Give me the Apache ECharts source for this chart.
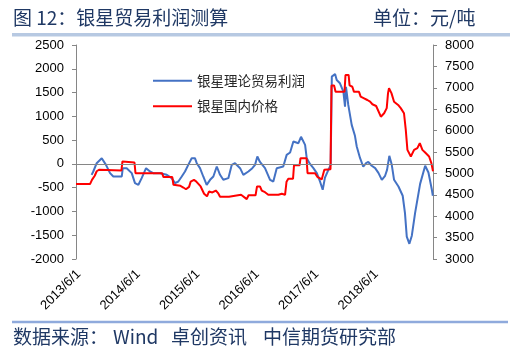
<!DOCTYPE html>
<html>
<head>
<meta charset="utf-8">
<script src="https://cdn.jsdelivr.net/npm/echarts@6/dist/echarts.min.js"></script>
<style>
html,body{margin:0;padding:0;background:#fff;}
#c{width:513px;height:355px;}
</style>
</head>
<body>
<div id="c"></div>
<script>
// 银星理论贸易利润 (元/吨, left axis)
const profitDates = ['2013-08-19','2013-08-29','2013-09-19','2013-10-20','2013-11-15','2013-12-10','2013-12-30','2014-02-20','2014-02-26','2014-03-22','2014-04-22','2014-05-12','2014-06-02','2014-06-22','2014-07-19','2014-08-12','2014-09-01','2014-10-13','2014-11-23','2014-12-23','2015-01-13','2015-02-02','2015-02-23','2015-03-15','2015-04-04','2015-04-25','2015-05-15','2015-05-26','2015-06-15','2015-07-05','2015-07-26','2015-08-16','2015-09-05','2015-09-26','2015-10-16','2015-11-05','2015-12-06','2015-12-27','2016-01-16','2016-02-16','2016-03-07','2016-04-07','2016-05-01','2016-05-18','2016-06-01','2016-06-17','2016-07-18','2016-08-18','2016-09-07','2016-09-28','2016-11-07','2016-11-28','2016-12-19','2017-01-08','2017-02-08','2017-02-24','2017-03-21','2017-03-31','2017-04-20','2017-05-11','2017-06-01','2017-06-21','2017-07-07','2017-07-21','2017-08-11','2017-08-25','2017-09-01','2017-09-21','2017-10-01','2017-10-21','2017-11-11','2017-11-21','2017-11-27','2017-12-11','2018-01-01','2018-01-21','2018-02-01','2018-02-21','2018-03-13','2018-03-30','2018-04-13','2018-05-04','2018-05-25','2018-06-14','2018-07-05','2018-07-25','2018-08-06','2018-08-20','2018-09-04','2018-09-18','2018-10-15','2018-11-10','2018-11-24','2018-12-05','2018-12-21','2019-01-05','2019-01-25','2019-02-25','2019-03-28','2019-04-17','2019-05-08','2019-05-14'];
const profitValues = [-230,-160,15,120,-20,-195,-265,-265,-90,-90,-195,-405,-440,-300,-90,-160,-195,-195,-230,-300,-405,-370,-265,-160,-20,120,120,15,-90,-265,-440,-335,-265,-55,-230,-335,-300,-20,15,-90,-230,-160,-90,-20,155,40,-90,-335,-370,-90,-55,190,240,470,435,570,400,120,0,-90,-195,-375,-545,-290,-125,-20,1835,1890,1765,1695,1520,1205,1620,1240,820,590,365,125,-60,15,40,-40,-90,-190,-335,-250,-125,170,-20,-335,-475,-670,-1035,-1530,-1680,-1510,-1035,-420,-40,-180,-545,-670];

// 银星国内价格 (元/吨, right axis)
const priceDates = ['2013-05-15','2013-08-09','2013-08-21','2013-09-07','2013-09-19','2013-10-03','2014-02-18','2014-02-24','2014-03-06','2014-05-09','2014-05-15','2014-10-25','2014-11-03','2014-12-27','2015-01-03','2015-02-15','2015-03-05','2015-03-21','2015-04-09','2015-04-19','2015-05-09','2015-05-22','2015-05-30','2015-06-19','2015-07-10','2015-07-28','2015-08-09','2015-08-30','2015-09-20','2015-10-04','2015-10-16','2015-12-10','2015-12-20','2016-02-22','2016-03-02','2016-03-28','2016-04-08','2016-05-21','2016-05-30','2016-06-17','2016-06-28','2016-07-18','2016-08-07','2016-09-07','2016-09-18','2016-10-08','2016-10-29','2016-11-18','2016-11-27','2016-12-08','2017-01-06','2017-01-12','2017-02-15','2017-02-21','2017-03-30','2017-04-05','2017-05-21','2017-06-04','2017-07-01','2017-07-11','2017-07-17','2017-08-24','2017-08-30','2017-09-15','2017-09-24','2017-11-18','2017-11-24','2017-12-13','2017-12-19','2018-01-05','2018-01-15','2018-02-15','2018-02-25','2018-03-18','2018-04-07','2018-04-24','2018-05-08','2018-05-31','2018-06-08','2018-06-29','2018-07-19','2018-08-04','2018-08-12','2018-08-18','2018-09-02','2018-09-18','2018-10-13','2018-10-29','2018-11-18','2018-11-29','2018-12-09','2018-12-30','2019-01-19','2019-02-08','2019-02-23','2019-03-11','2019-03-31','2019-04-21','2019-05-05','2019-05-15'];
const priceValues = [4750,4750,4850,4945,5050,5085,5070,5280,5255,5255,5005,5005,4915,4915,4735,4710,4670,4630,4685,4810,4850,4815,4810,4695,4525,4465,4575,4555,4600,4540,4455,4455,4500,4500,4455,4400,4490,4490,4695,4695,4600,4560,4500,4500,4540,4500,4525,4500,4805,4875,4875,5190,5190,5355,5355,5005,5005,4920,4860,4850,5085,5095,7055,7055,6910,6910,7300,7300,7055,7025,6905,6905,6795,6755,6715,6675,6615,6575,6560,6325,6405,6525,6875,6990,6875,6675,6600,6525,6405,6015,5550,5395,5550,5590,5705,5550,5475,5395,5240,5050];

const xTickLabels = ['2013/6/1','2014/6/1','2015/6/1','2016/6/1','2017/6/1','2018/6/1'];
const xRange = ['2013/5/15', '2019/5/15'];
const leftTicks = {min: -2000, max: 2500, interval: 500};
const rightTicks = {min: 3000, max: 8000, interval: 500};
const seriesNames = ['银星理论贸易利润', '银星国内价格'];

const toTime = s => new Date(s.replace(/-/g, '/')).getTime();
const tickTimes = xTickLabels.map(toTime);
const navy = '#1F3864';
const cjk = '"Noto Sans CJK SC", "Noto Sans", sans-serif';
const latin = '"Liberation Sans", Arial, sans-serif';
const plain = v => String(v);

const chart = echarts.init(document.getElementById('c'), null, {renderer: 'canvas'});
chart.setOption({
  animation: false,
  backgroundColor: '#fff',
  graphic: [
    {type: 'text', left: 13, top: 8, style: {text: '图 12：银星贸易利润测算', font: '19px ' + cjk, fill: navy}},
    {type: 'text', left: 373, top: 8, style: {text: '单位：元/吨', font: '19px ' + cjk, fill: navy}},
    {type: 'rect', shape: {x: 12, y: 33, width: 498, height: 3.5}, style: {fill: '#B7C9E2'}},
    {type: 'rect', shape: {x: 12, y: 320.7, width: 496, height: 2.6}, style: {fill: '#8FAADC'}},
    {type: 'text', left: 13, top: 327, style: {text: '数据来源：', font: '19px ' + cjk, fill: navy}},
    {type: 'text', left: 113, top: 327, style: {text: 'Wind', font: '19px ' + cjk, fill: navy}},
    {type: 'text', left: 171, top: 327, style: {text: '卓创资讯', font: '19px ' + cjk, fill: navy}},
    {type: 'text', left: 263, top: 327, style: {text: '中信期货研究部', font: '19px ' + cjk, fill: navy}}
  ],
  grid: {left: 76, right: 80, top: 45, bottom: 96, containLabel: false},
  legend: {
    show: true,
    orient: 'vertical',
    left: 147,
    top: 69,
    itemWidth: 39,
    itemHeight: 14,
    itemGap: 12,
    itemStyle: {opacity: 0, color: 'transparent', borderWidth: 0},
    textStyle: {fontFamily: cjk, fontSize: 13.5, color: '#262626'},
    data: seriesNames
  },
  xAxis: {
    type: 'value',
    min: toTime(xRange[0]),
    max: toTime(xRange[1]),
    axisLine: {show: false},
    axisTick: {show: false},
    splitLine: {show: false},
    axisLabel: {
      customValues: tickTimes,
      rotate: 45,
      margin: 13,
      color: '#000',
      fontFamily: latin,
      fontSize: 13,
      showMinLabel: true,
      showMaxLabel: true,
      formatter: function (v) {
        let best = 0;
        for (let i = 1; i < tickTimes.length; i++) {
          if (Math.abs(tickTimes[i] - v) < Math.abs(tickTimes[best] - v)) best = i;
        }
        return xTickLabels[best];
      }
    }
  },
  yAxis: [
    {
      type: 'value',
      min: leftTicks.min, max: leftTicks.max, interval: leftTicks.interval,
      axisLine: {show: true, lineStyle: {color: '#868686', width: 1}},
      axisTick: {show: true, length: 4, lineStyle: {color: '#868686'}},
      splitLine: {show: false},
      axisLabel: {margin: 12, color: '#000', fontFamily: latin, fontSize: 13, formatter: plain}
    },
    {
      type: 'value',
      position: 'right',
      min: rightTicks.min, max: rightTicks.max, interval: rightTicks.interval,
      axisLine: {show: true, lineStyle: {color: '#868686', width: 1}},
      axisTick: {show: true, length: 4, lineStyle: {color: '#868686'}},
      splitLine: {show: false},
      axisLabel: {margin: 12, color: '#000', fontFamily: latin, fontSize: 13, formatter: plain}
    }
  ],
  series: [
    {
      name: seriesNames[0],
      type: 'line',
      yAxisIndex: 0,
      symbol: 'none',
      showSymbol: false,
      lineStyle: {color: '#4472C4', width: 2},
      itemStyle: {color: '#4472C4'},
      data: profitDates.map((d, i) => [toTime(d), profitValues[i]]),
      markLine: {
        silent: true,
        symbol: ['none', 'none'],
        label: {show: false},
        lineStyle: {color: '#868686', width: 1, type: 'solid'},
        data: [{yAxis: 0}]
      },
      z: 2
    },
    {
      name: seriesNames[1],
      type: 'line',
      yAxisIndex: 1,
      symbol: 'none',
      showSymbol: false,
      lineStyle: {color: '#FF0000', width: 2},
      itemStyle: {color: '#FF0000'},
      data: priceDates.map((d, i) => [toTime(d), priceValues[i]]),
      z: 3
    }
  ]
});
</script>
</body>
</html>
